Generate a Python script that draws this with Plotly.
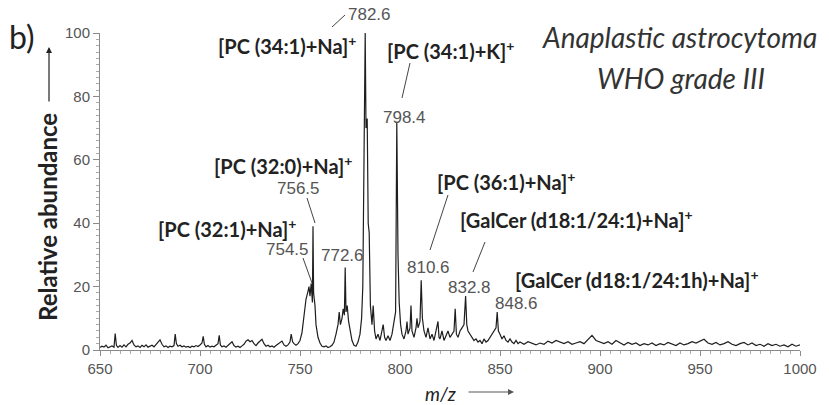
import plotly.graph_objects as go

# ---- spectrum data (m/z, relative abundance) ----
mz = [650, 651, 652, 653, 654, 655, 656, 657, 657.6, 658.2, 659, 660, 661, 662, 663, 664, 665, 666, 667, 668,
      669, 670, 671, 672, 673, 674, 675, 676, 677, 678, 679, 680, 681, 682, 683, 684, 685, 686, 687, 687.6,
      688.2, 689, 690, 691, 692, 693, 694, 695, 696, 697, 698, 699, 700, 701, 701.6, 702.2, 703, 704, 705, 706,
      707, 708, 709, 709.6, 710.2, 711, 712, 713, 714, 715, 716, 717, 718, 719, 720, 721, 722, 723, 724, 725,
      726, 727, 728, 729, 730, 731, 732, 733, 734, 735, 736, 737, 738, 739, 740, 741, 742, 743, 744, 745,
      745.6, 746.3, 747, 748, 749, 750, 751, 752, 753, 754, 754.5, 755, 755.6, 756.2, 756.5, 756.8, 757.5, 758, 759, 760,
      761, 762, 763, 764, 765, 766, 767, 768, 769, 769.6, 770.2, 771, 771.6, 772.2, 772.6, 773, 773.6, 774.3, 775, 776,
      777, 778, 779, 780, 780.8, 781.4, 782, 782.6, 783.0, 783.6, 784.1, 784.6, 785.2, 786, 786.6, 787.3, 788, 789, 790, 791,
      791.6, 792.3, 793, 794, 795, 796, 797, 797.8, 798.4, 799, 799.6, 800.3, 801, 802, 803, 803.5, 804, 805, 805.5, 806,
      807, 808, 808.5, 809, 810, 810.6, 811.2, 812, 813, 814, 815, 816, 817, 818, 819, 819.5, 820, 821, 822, 823,
      824, 825, 826, 827, 827.6, 828.2, 829, 830, 831, 832, 832.8, 833.4, 834, 835, 836, 837, 838, 839, 840, 841,
      842, 843, 844, 845, 846, 847, 848, 848.6, 849.2, 850, 851, 852, 853, 854, 855, 856, 857, 858, 859, 860,
      862, 864, 866, 868, 870, 872, 874, 876, 878, 880, 882, 884, 886, 888, 890, 892, 894, 896, 898, 900,
      902, 904, 906, 908, 910, 912, 914, 916, 918, 920, 922, 924, 926, 928, 930, 932, 934, 936, 938, 940,
      942, 944, 946, 948, 950, 952, 954, 956, 958, 960, 962, 964, 966, 968, 970, 972, 974, 976, 978, 980,
      982, 984, 986, 988, 990, 992, 994, 996, 998, 1000]
abundance = [0.8, 1.2, 0.9, 1.5, 0.7, 1.0, 1.3, 0.9, 5.2, 1.5, 0.8, 1.4, 0.9, 1.6, 1.0, 1.8, 2.2, 3.0, 1.6, 1.0,
             1.3, 0.8, 1.5, 1.0, 1.6, 0.9, 1.2, 1.5, 1.0, 1.8, 2.5, 3.2, 1.8, 1.0, 1.3, 0.8, 1.2, 1.0, 1.4, 5.0,
             2.0, 1.2, 1.5, 1.0, 1.3, 0.9, 1.1, 0.8, 1.2, 1.0, 1.4, 1.1, 1.6, 2.2, 4.3, 1.8, 1.0, 1.4, 0.9, 1.2,
             1.0, 1.6, 2.0, 4.6, 1.6, 1.0, 1.3, 0.9, 1.4, 1.8, 2.6, 1.4, 0.9, 1.2, 0.8, 1.3, 1.8, 2.8, 3.2, 2.6,
             3.0, 2.0, 1.4, 2.2, 2.8, 3.4, 2.0, 1.2, 1.5, 1.0, 1.3, 0.9, 1.4, 1.8, 2.4, 2.8, 1.6, 1.2, 1.6, 2.5,
             5.0, 2.6, 2.0, 1.5, 2.0, 3.0, 5.5, 10, 16, 18.5, 20, 17, 21, 15, 39, 18, 14, 8, 4, 2.2,
             1.2, 1.0, 1.3, 0.8, 1.0, 1.5, 2.5, 5, 8, 12, 8, 10, 13, 11, 26, 12, 14, 9, 6, 3,
             1.5, 1.2, 2.5, 5, 10, 20, 60, 100, 70, 73, 40, 37, 14, 8, 14, 6, 3.5, 5, 3, 6,
             8, 4, 3, 4.5, 3, 5, 9, 12, 72, 30, 15, 8, 5, 3.5, 6, 9, 5, 7, 14, 6,
             4, 7, 10, 7, 9, 22, 10, 6, 4, 7, 3.5, 5, 3, 6, 9, 4, 3.5, 6, 3, 4.5,
             6, 4, 5, 6, 13, 5, 4, 6, 7, 8, 17, 8, 6, 5, 4, 3, 3.5, 2.5, 3, 2,
             3.5, 2.5, 3, 4, 5, 6, 7, 12, 6, 5, 3.5, 4.5, 3, 2.5, 3.5, 2.5, 2, 3, 2, 2.5,
             1.8, 2.6, 2.0, 1.6, 2.2, 1.8, 2.8, 2.2, 3.0, 2.4, 2.0, 2.6, 1.8, 2.2, 2.6, 2.0, 3.2, 4.6, 3.0, 2.4,
             2.0, 2.6, 1.8, 3.0, 2.2, 1.6, 2.4, 1.8, 2.2, 1.4, 2.0, 1.6, 2.2, 1.4, 2.0, 1.6, 2.4, 1.8, 1.4, 2.2,
             1.6, 2.0, 2.6, 2.2, 2.8, 3.4, 2.2, 1.8, 2.4, 1.6, 2.0, 2.6, 1.8, 1.4, 2.0, 2.4, 1.6, 2.2, 1.4, 1.8,
             1.2, 2.0, 1.4, 1.8, 1.2, 1.6, 1.0, 1.8, 1.2, 1.6]

# ---- axis ticks ----
x_ticks = [650, 700, 750, 800, 850, 900, 950, 1000]
y_ticks = [0, 20, 40, 60, 80, 100]

# ---- peak annotations ----
peak_values = ["782.6", "798.4", "756.5", "754.5", "772.6", "810.6", "832.8", "848.6"]
species = ["[PC (34:1)+Na]<sup>+</sup>", "[PC (34:1)+K]<sup>+</sup>", "[PC (32:0)+Na]<sup>+</sup>",
           "[PC (32:1)+Na]<sup>+</sup>", "[PC (36:1)+Na]<sup>+</sup>",
           "[GalCer (d18:1/24:1)+Na]<sup>+</sup>", "[GalCer (d18:1/24:1h)+Na]<sup>+</sup>"]

# plot area in pixels: x 100..800, y 33..350
L, R, T, B = 100, 800, 33, 350
W, H = 829, 405


def pxp(px):
    return (px - L) / (R - L)


def pyp(py):
    return (B - py) / (B - T)


fig = go.Figure()
fig.add_trace(go.Scatter(x=mz, y=abundance, mode="lines",
                         line=dict(color="#1e1e1e", width=1.2), hoverinfo="skip"))

ann = []
num_font = dict(family="Liberation Sans", size=17, color="#555555")
lab_font = dict(family="Lato", size=20, color="#222222")

# numeric labels (center px, center py)
num_pos = [(369, 15), (404, 117), (298, 188), (287, 249), (342, 255), (428, 267), (469, 287), (516, 303)]
for txt, (cx, cy) in zip(peak_values, num_pos):
    ann.append(dict(x=pxp(cx), y=pyp(cy), xref="paper", yref="paper", text=txt, showarrow=False,
                    font=num_font, xanchor="center", yanchor="middle"))

# species labels (left px, center py)
lab_pos = [(216, 45), (385, 50), (212, 165), (156, 228), (435, 181), (458, 219), (513, 279)]
for txt, (lx, cy) in zip(species, lab_pos):
    ann.append(dict(x=pxp(lx), y=pyp(cy), xref="paper", yref="paper", text="<b>" + txt + "</b>",
                    showarrow=False, font=lab_font, xanchor="left", yanchor="middle"))

# title text
title_font = dict(family="Lato", size=28, color="#333333")
ann.append(dict(x=pxp(679), y=pyp(37), xref="paper", yref="paper", text="<i>Anaplastic astrocytoma</i>",
                showarrow=False, font=title_font, xanchor="center", yanchor="middle"))
ann.append(dict(x=pxp(681), y=pyp(78), xref="paper", yref="paper", text="<i>WHO grade III</i>",
                showarrow=False, font=title_font, xanchor="center", yanchor="middle"))

# panel letter
ann.append(dict(x=pxp(22), y=pyp(36), xref="paper", yref="paper", text="b)",
                showarrow=False, font=dict(family="Lato", size=32, color="#222222"),
                xanchor="center", yanchor="middle"))

# y axis title + arrow
ann.append(dict(x=pxp(48), y=pyp(217), xref="paper", yref="paper",
                text="<b>Relative abundance</b>", textangle=-90, showarrow=False,
                font=dict(family="Lato", size=24, color="#222222"), xanchor="center", yanchor="middle"))
ann.append(dict(x=pxp(49), y=pyp(47), xref="paper", yref="paper",
                ax=0, ay=56, text="", showarrow=True, arrowhead=2, arrowsize=1,
                arrowwidth=1.2, arrowcolor="#222222"))

# x axis title + arrow
ann.append(dict(x=pxp(440), y=pyp(393), xref="paper", yref="paper",
                text="<i>m/z</i>", showarrow=False,
                font=dict(family="Lato", size=19, color="#222222"), xanchor="center", yanchor="middle"))
ann.append(dict(x=pxp(514), y=pyp(392), xref="paper", yref="paper",
                ax=-47, ay=0, text="", showarrow=True, arrowhead=2, arrowsize=1,
                arrowwidth=1.2, arrowcolor="#555555"))

# leader lines (pixel endpoints)
leaders = [((332, 27), (345, 15)), ((410, 63), (402, 98)), ((307, 198), (315, 223)),
           ((303, 258), (312, 283)), ((448, 195), (430, 250)), ((485, 242), (473, 272))]
shapes = []
for (x0, y0), (x1, y1) in leaders:
    shapes.append(dict(type="line", x0=pxp(x0), y0=pyp(y0), x1=pxp(x1), y1=pyp(y1),
                       xref="paper", yref="paper", line=dict(color="#444444", width=1)))

fig.update_layout(
    width=W, height=H, autosize=False,
    margin=dict(l=L, r=W - R, t=T, b=H - B),
    paper_bgcolor="white", plot_bgcolor="white",
    showlegend=False,
    annotations=ann, shapes=shapes,
    xaxis=dict(range=[650, 1000], tickvals=x_ticks, ticktext=[str(v) for v in x_ticks],
               showgrid=False, zeroline=False, showline=True, linecolor="#8a8a8a", linewidth=1,
               ticks="outside", ticklen=5, tickcolor="#8a8a8a",
               minor=dict(dtick=5, tick0=650, ticks="outside", ticklen=3, tickcolor="#aaaaaa"),
               tickfont=dict(family="Liberation Sans", size=15, color="#555555")),
    yaxis=dict(range=[0, 100], tickvals=y_ticks, ticktext=[str(v) for v in y_ticks],
               showgrid=False, zeroline=False, showline=True, linecolor="#8a8a8a", linewidth=1,
               ticks="outside", ticklen=6, tickcolor="#8a8a8a",
               minor=dict(dtick=2, tick0=0, ticks="outside", ticklen=3, tickcolor="#aaaaaa"),
               tickfont=dict(family="Liberation Sans", size=15, color="#555555")),
)

fig.write_html("out.html")
